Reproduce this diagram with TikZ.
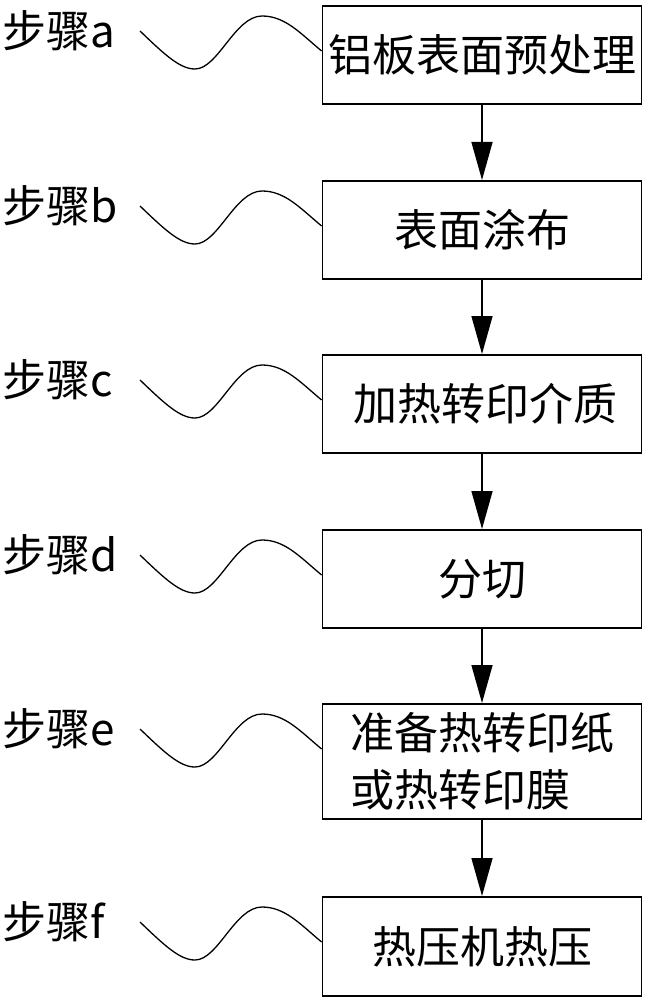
\documentclass[tikz,border=0pt]{standalone}
\usepackage{fontspec}
\newfontfamily\cjk{Noto Sans CJK SC}
\usetikzlibrary{arrows.meta,calc}
\begin{document}
\begin{tikzpicture}[x=1pt,y=-1pt,
  stepbox/.style={draw,line width=1.8pt,minimum width=319pt,minimum height=98pt,inner sep=0pt,anchor=north,
    font=\cjk\fontsize{44pt}{57pt}\selectfont},
  steplabel/.style={anchor=west,inner sep=0pt,font=\cjk\fontsize{44pt}{50pt}\selectfont},
  flow/.style={line width=1.5pt,-{Triangle[length=38pt,width=21pt]}},
  wave/.style={line width=1.3pt}]
\useasboundingbox (0,0) rectangle (649,1000);
% boxes
\node[stepbox] (a) at (482,5) {铝板表面预处理};
\node[stepbox] (b) at (482,180) {表面涂布};
\node[stepbox] (c) at (482,354) {\hspace{6pt}加热转印介质};
\node[stepbox] (d) at (482,529) {分切};
\node[stepbox,minimum height=115pt,align=left] (e) at (482,703) {准备热转印纸\\或热转印膜};
\node[stepbox,minimum height=99pt] (f) at (482,896) {热压机热压};
% arrows
\draw[flow] (a.south) -- (b.north);
\draw[flow] (b.south) -- (c.north);
\draw[flow] (c.south) -- (d.north);
\draw[flow] (d.south) -- (e.north);
\draw[flow] (e.south) -- (f.north);
% labels and waves
\foreach \n/\l/\t in {a/a/5, b/b/180, c/c/354, d/d/529, e/e/703, f/f/896}{
  \node[steplabel] (lab\n) at (2,\t+26) {步骤\l};
  \coordinate (ws\n) at (140,\t+26);
  \draw[wave] (ws\n) .. controls (165,\t+50) and (180,\t+64) .. (195,\t+64)
     .. controls (218,\t+64) and (235,\t+11) .. (262,\t+11)
     .. controls (285,\t+11) and (300,\t+28) .. ($(\n.north west)+(0,46)$);
}
\end{tikzpicture}
\end{document}
